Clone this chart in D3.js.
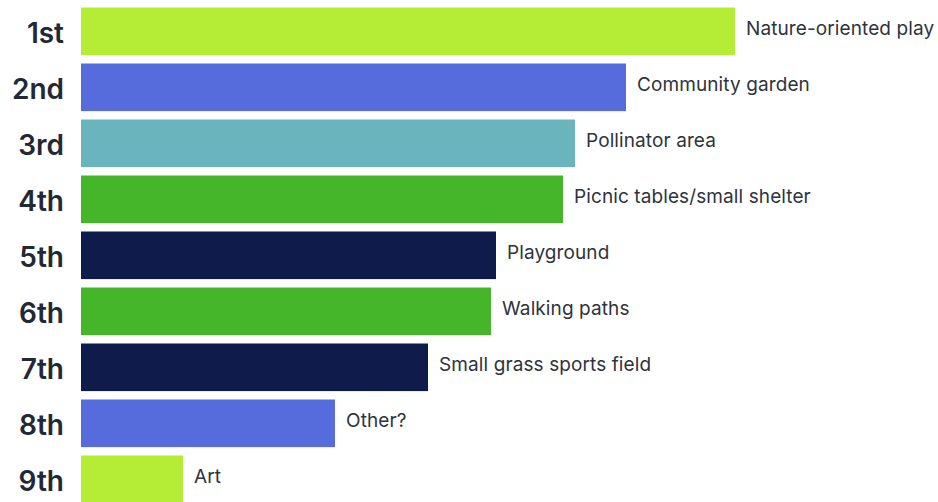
<!DOCTYPE html>
<html>
<head>
<meta charset="utf-8">
<script src="https://cdn.jsdelivr.net/npm/d3@7"></script>
<style>
  html, body { margin: 0; padding: 0; background: #fff; }
  svg { display: block; }
</style>
</head>
<body>
<div id="chart"></div>
<script>
// ranking data
const ranks = ['1st', '2nd', '3rd', '4th', '5th', '6th', '7th', '8th', '9th'];
const amenities = ['Nature-oriented play', 'Community garden', 'Pollinator area',
  'Picnic tables/small shelter', 'Playground', 'Walking paths',
  'Small grass sports field', 'Other?', 'Art'];
const scores = [654, 545, 494, 482, 415, 410, 347, 254, 102];
const barColors = ['#b5ec36', '#566bdc', '#6ab5bd', '#45b52a', '#0f1b4b',
  '#45b52a', '#0f1b4b', '#566bdc', '#b5ec36'];

const W = 938, H = 502;
const left = 81;

const svg = d3.select('#chart').append('svg')
  .attr('width', W)
  .attr('height', H);

const x = d3.scaleLinear()
  .domain([0, d3.max(scores)])
  .range([left, 735]);

// step of 56px, bars ~47.6px tall
const y = d3.scaleBand()
  .domain(ranks)
  .range([7.5, 7.5 + 56 * 8.85])
  .paddingInner(0.15)
  .paddingOuter(0);

const rows = svg.selectAll('g.row')
  .data(ranks)
  .enter().append('g')
  .attr('class', 'row');

rows.append('rect')
  .attr('x', x(0))
  .attr('y', d => y(d))
  .attr('width', (d, i) => x(scores[i]) - x(0))
  .attr('height', y.bandwidth())
  .attr('fill', (d, i) => barColors[i]);

// rank labels on the left
rows.append('text')
  .attr('x', 64)
  .attr('y', d => y(d) + y.bandwidth() / 2 + 12)
  .attr('text-anchor', 'end')
  .attr('font-family', 'Inter, sans-serif')
  .attr('font-weight', 600)
  .attr('font-size', 28)
  .attr('letter-spacing', 0)
  .attr('fill', '#222834')
  .text(d => d);

// amenity labels at bar ends
rows.append('text')
  .attr('x', (d, i) => x(scores[i]) + 11)
  .attr('y', d => y(d) + y.bandwidth() / 2 + 4)
  .attr('font-family', 'Inter, sans-serif')
  .attr('font-size', 19)
  .attr('letter-spacing', 0.1)
  .attr('fill', '#2e333d')
  .text((d, i) => amenities[i]);
</script>
</body>
</html>
